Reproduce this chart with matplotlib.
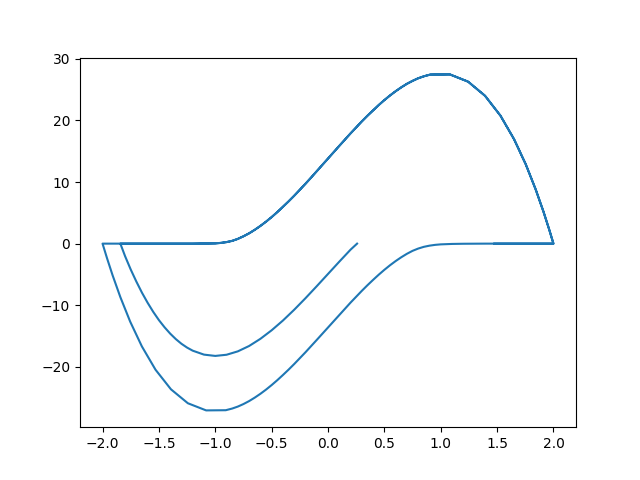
import matplotlib
matplotlib.use("Agg")
import matplotlib.pyplot as plt
import numpy as np

# Flat run along y=0 before the first sweep back
flat_x = [1.475, 1.602, 1.714, 1.808, 1.884, 1.942, 1.980, 1.998]
flat_y = [0, 0, 0, 0, 0, 0, 0, 0]

# Upper branch, swept from 2 down to -2
upper_x = [2.0, 1.990, 1.960, 1.911, 1.842, 1.755, 1.651, 1.530, 1.393, 1.243, 1.081,
           0.907, 0.85, 0.80, 0.75, 0.70, 0.65, 0.60, 0.55, 0.50, 0.45, 0.40, 0.35,
           0.30, 0.25, 0.20, 0.15, 0.10, 0.05, 0.0, -0.05, -0.10, -0.15, -0.20, -0.25,
           -0.30, -0.35, -0.40, -0.45, -0.50, -0.55, -0.60, -0.65, -0.70, -0.75, -0.80,
           -0.85, -0.90, -0.95, -1.00, -1.20, -1.40, -1.60, -1.842, -1.911, -1.960,
           -1.990, -2.0]
upper_y = [0, 0.62, 2.42, 5.21, 8.81, 12.84, 16.93, 20.76, 23.99, 26.28, 27.46,
           27.43, 27.15, 26.83, 26.41, 25.93, 25.36, 24.73, 24.04, 23.29, 22.49, 21.63, 20.75,
           19.83, 18.86, 17.89, 16.88, 15.86, 14.83, 13.80, 12.76, 11.74, 10.72, 9.71, 8.74,
           7.77, 6.85, 5.97, 5.11, 4.31, 3.56, 2.87, 2.24, 1.67, 1.19, 0.77,
           0.45, 0.25, 0.12, 0.04, 0, 0, 0, 0, 0, 0,
           0, 0]

# Lower branch, swept from -2 up to 2
lower_x = [-2.0, -1.990, -1.960, -1.911, -1.842, -1.755, -1.651, -1.530, -1.393, -1.243,
           -1.081, -0.907, -0.85, -0.80, -0.75, -0.70, -0.65, -0.60, -0.55, -0.50, -0.45,
           -0.40, -0.35, -0.30, -0.25, -0.20, -0.15, -0.10, -0.05, 0.0, 0.05, 0.10, 0.15,
           0.20, 0.25, 0.30, 0.35, 0.40, 0.45, 0.50, 0.55, 0.60, 0.65, 0.70, 0.75, 0.80,
           0.85, 0.90, 0.95, 1.00, 1.10, 1.20, 1.40, 1.60, 1.80, 1.942, 1.980, 1.998, 2.0]
lower_y = [0, -0.61, -2.38, -5.13, -8.68, -12.65, -16.68, -20.46, -23.64, -25.90,
           -27.06, -27.03, -26.76, -26.44, -26.03, -25.55, -24.99, -24.37, -23.69, -22.95, -22.16,
           -21.32, -20.45, -19.54, -18.59, -17.63, -16.64, -15.63, -14.62, -13.60, -12.58, -11.57, -10.56,
           -9.57, -8.61, -7.66, -6.75, -5.88, -5.04, -4.25, -3.51, -2.83, -2.21, -1.65, -1.17, -0.80,
           -0.52, -0.33, -0.20, -0.12, -0.05, -0.02, 0, 0, 0, 0, 0, 0, 0]

# Inner loop, from -1.84 up to 0.25
inner_x = [-1.842, -1.80, -1.75, -1.70, -1.65, -1.60, -1.55, -1.50, -1.45, -1.40, -1.35,
           -1.30, -1.25, -1.20, -1.10, -1.00, -0.90, -0.80, -0.70, -0.60, -0.50, -0.40,
           -0.30, -0.20, -0.10, 0.0, 0.10, 0.20, 0.258]
inner_y = [0, -2.04, -4.20, -6.16, -7.97, -9.60, -11.08, -12.41, -13.57, -14.60, -15.49,
           -16.25, -16.87, -17.37, -18.01, -18.22, -18.03, -17.48, -16.61, -15.45, -14.06, -12.48,
           -10.73, -8.86, -6.91, -4.92, -2.93, -0.98, 0]

# second sweep down stops where the inner loop starts
n_second = upper_x.index(-1.842) + 1

x = np.concatenate([flat_x, upper_x, lower_x, upper_x[:n_second], inner_x])
y = np.concatenate([flat_y, upper_y, lower_y, upper_y[:n_second], inner_y])

fig, ax = plt.subplots(figsize=(6.4, 4.8), dpi=100)
ax.plot(x, y)

plt.savefig("out.png")
